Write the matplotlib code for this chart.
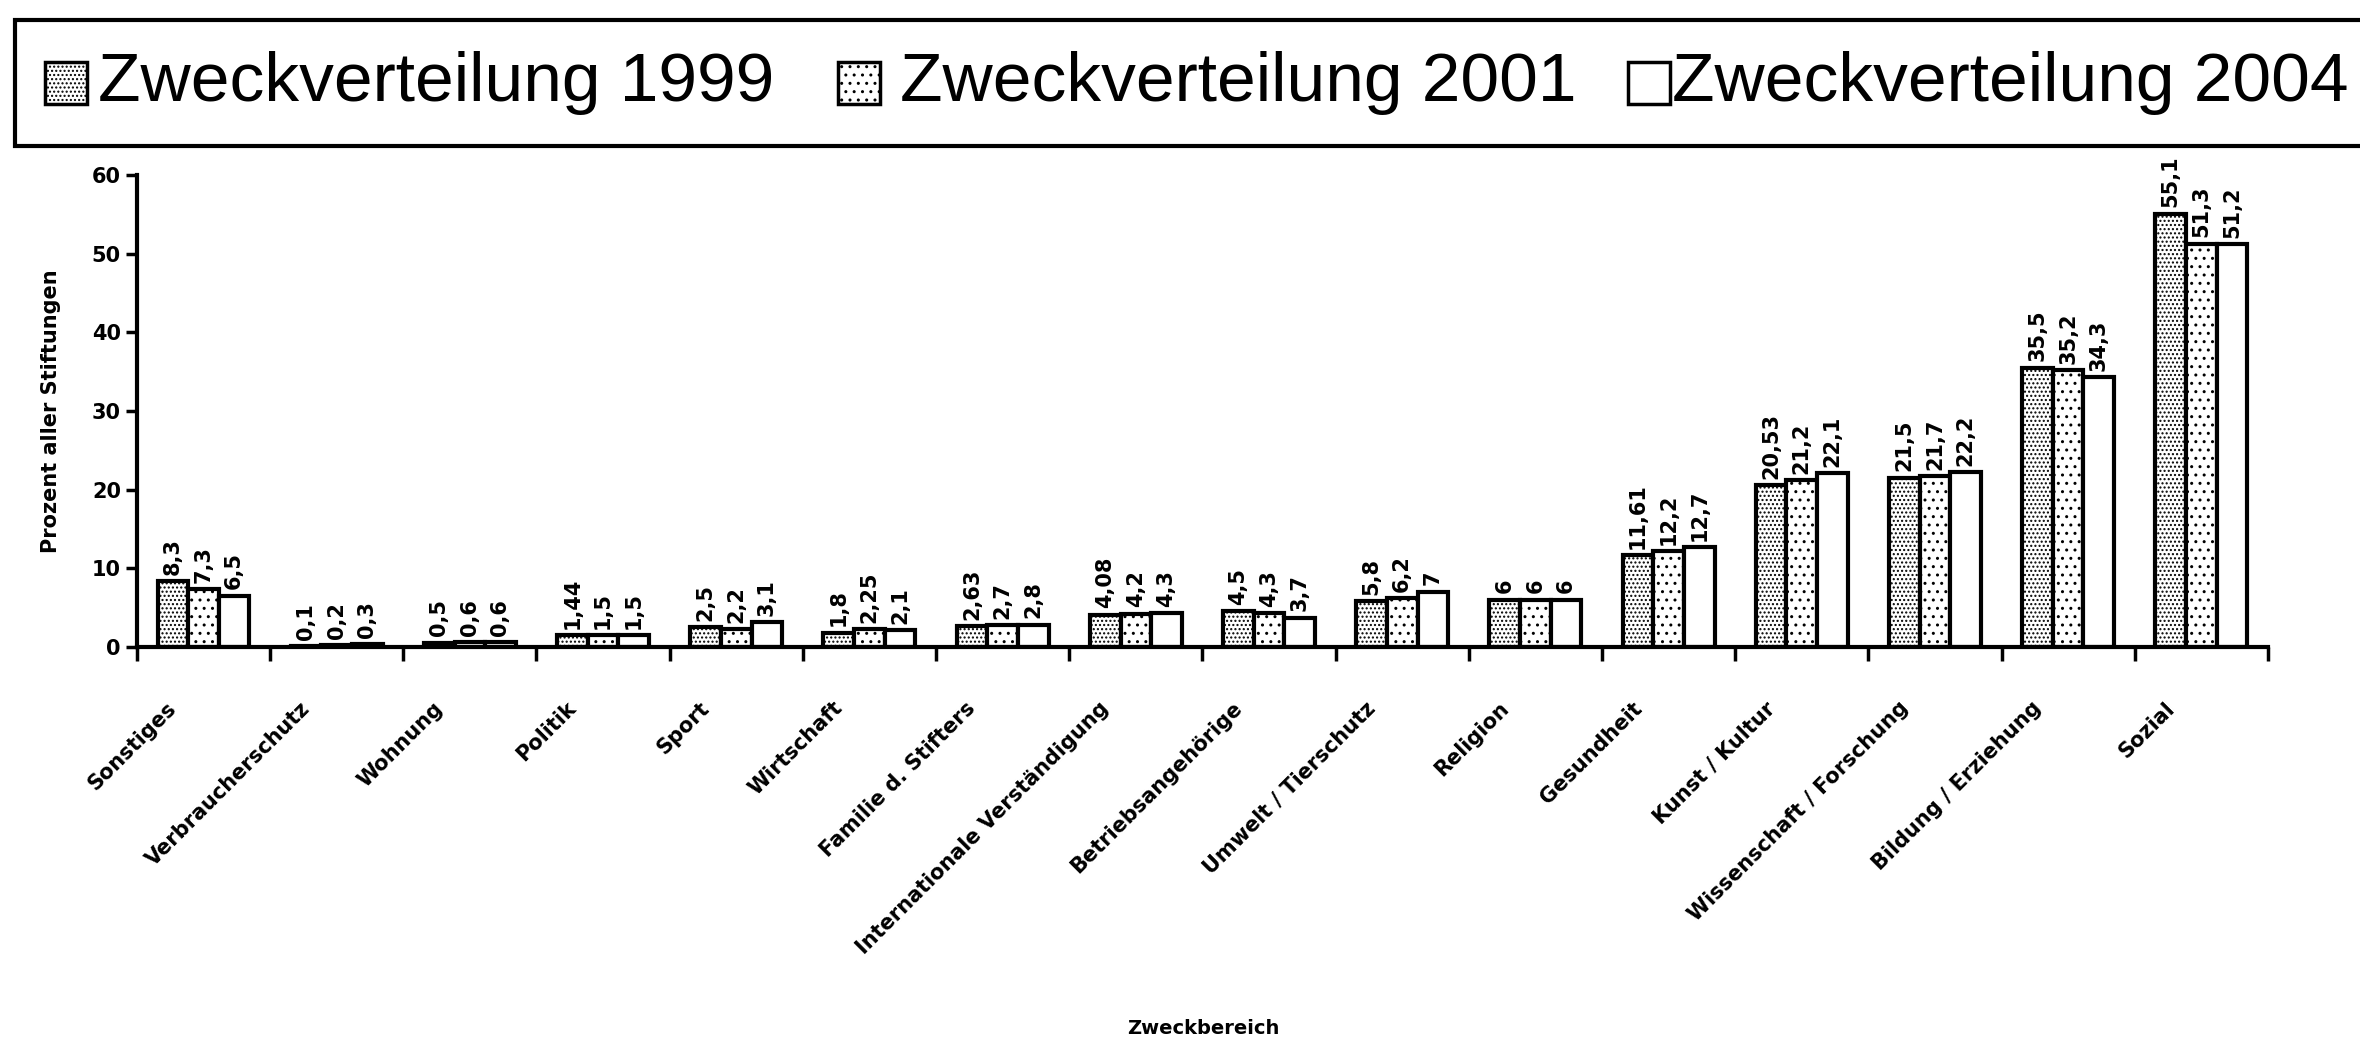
import numpy as np
import matplotlib
matplotlib.use('Agg')
import matplotlib.pyplot as plt
from matplotlib.patches import Rectangle
from matplotlib.transforms import ScaledTranslation

plt.rcParams['font.family'] = ['DejaVu Sans']
plt.rcParams['hatch.color'] = '#777777'
plt.rcParams['hatch.linewidth'] = 1.0

categories = ['Sonstiges', 'Verbraucherschutz', 'Wohnung', 'Politik', 'Sport',
              'Wirtschaft', 'Familie d. Stifters', 'Internationale Verständigung',
              'Betriebsangehörige', 'Umwelt / Tierschutz', 'Religion', 'Gesundheit',
              'Kunst / Kultur', 'Wissenschaft / Forschung', 'Bildung / Erziehung', 'Sozial']
werte_1999 = [8.3, 0.1, 0.5, 1.44, 2.5, 1.8, 2.63, 4.08, 4.5, 5.8, 6, 11.61, 20.53, 21.5, 35.5, 55.1]
werte_2001 = [7.3, 0.2, 0.6, 1.5, 2.2, 2.25, 2.7, 4.2, 4.3, 6.2, 6, 12.2, 21.2, 21.7, 35.2, 51.3]
werte_2004 = [6.5, 0.3, 0.6, 1.5, 3.1, 2.1, 2.8, 4.3, 3.7, 7.0, 6, 12.7, 22.1, 22.2, 34.3, 51.2]
serien = ['Zweckverteilung 1999', 'Zweckverteilung 2001', 'Zweckverteilung 2004']

fig = plt.figure(figsize=(23.6, 10.43), dpi=100)
ax = fig.add_axes([0.058, 0.38, 0.903, 0.452])

x = np.arange(len(categories))
w = 0.23
hatches = ['....', '..', '']
for i, werte in enumerate([werte_1999, werte_2001, werte_2004]):
    pos = x + (i - 1) * w
    ax.bar(pos, werte, width=w, color='white', edgecolor='black', linewidth=3,
           hatch=hatches[i])
    for p, v in zip(pos, werte):
        ax.text(p, v + 0.8, f'{v:g}'.replace('.', ','), rotation=90, ha='center',
                va='bottom', fontsize=15, fontweight='bold')

ax.set_xlim(-0.5, len(categories) - 0.5)
ax.set_ylim(0, 60)
ax.set_yticks(range(0, 61, 10))
ax.tick_params(axis='y', labelsize=15, width=2.5, length=8)
for t in ax.get_yticklabels():
    t.set_fontweight('bold')

ax.set_xticks(x)
ax.set_xticklabels(categories, rotation=45, ha='right', va='center',
                   rotation_mode='anchor', fontsize=15, fontweight='bold')
ax.tick_params(axis='x', length=0, pad=42)
for t in ax.get_xticklabels():
    t.set_transform(t.get_transform() + ScaledTranslation(-0.3, 0, fig.dpi_scale_trans))
ax.set_xticks(np.arange(-0.5, len(categories)), minor=True)
ax.tick_params(axis='x', which='minor', length=10, width=2.5)

for s in ['top', 'right']:
    ax.spines[s].set_visible(False)
ax.spines['left'].set_linewidth(3)
ax.spines['bottom'].set_linewidth(3)

ax.set_ylabel('Prozent aller Stiftungen', fontsize=15, fontweight='bold', labelpad=22)
fig.text(0.51, 0.005, 'Zweckbereich', ha='center', va='bottom', fontsize=14,
         fontweight='bold')

# Legendenkasten oben
W, H = 2360, 1043
fig.patches.append(Rectangle((15 / W, 1 - 146 / H), 1.0, 126 / H, transform=fig.transFigure,
                             facecolor='white', edgecolor='black', linewidth=3))
marker_x = [45, 838, 1628]
text_x = [98, 900, 1672]
for mx, tx, h, s in zip(marker_x, text_x, hatches, serien):
    fig.patches.append(Rectangle((mx / W, 1 - 104 / H), 42 / W, 42 / H,
                                 transform=fig.transFigure, facecolor='white',
                                 edgecolor='black', linewidth=2.5, hatch=h))
    fig.text(tx / W, 1 - 83 / H, s, ha='left', va='center', fontsize=50,
             family=['Liberation Sans', 'DejaVu Sans'])

fig.savefig('out.png', dpi=100)
